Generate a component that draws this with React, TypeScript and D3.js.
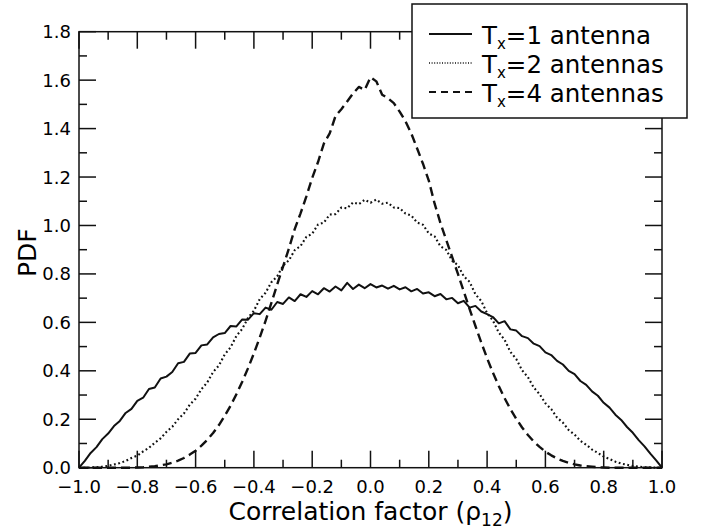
import React from "react";
import * as d3 from "d3";

const xStart = -1;
const xStep = 0.02;

const tx1 = [0,0.028,0.061,0.085,0.118,0.141,0.172,0.193,0.226,0.243,0.276,0.289,0.325,0.331,0.368,0.376,0.395,0.431,0.437,0.471,0.474,0.505,0.509,0.538,0.552,0.556,0.585,0.583,0.612,0.611,0.638,0.634,0.661,0.652,0.684,0.676,0.703,0.688,0.716,0.705,0.729,0.716,0.741,0.727,0.748,0.732,0.763,0.738,0.756,0.741,
  0.758,
  0.744,0.752,0.739,0.751,0.736,0.745,0.728,0.738,0.719,0.724,0.708,0.717,0.695,0.701,0.679,0.689,0.661,0.668,0.645,0.634,0.622,0.596,0.605,0.571,0.566,0.543,0.535,0.512,0.502,0.476,0.465,0.441,0.426,0.400,0.386,0.358,0.342,0.315,0.297,0.268,0.248,0.219,0.197,0.168,0.144,0.114,0.088,0.058,0.030,0];

const tx2 = [0,0,0.001,0.002,0.004,0.008,0.013,0.019,0.028,0.040,0.050,0.067,0.082,0.103,0.121,0.148,0.169,0.200,0.224,0.260,0.285,0.324,0.352,0.395,0.422,0.468,0.497,0.544,0.573,0.619,0.648,0.696,0.722,0.766,0.790,0.834,0.856,0.898,0.915,0.953,0.966,1.004,1.012,1.045,1.047,1.074,1.071,1.095,1.088,1.106,
  1.094,
  1.107,1.090,1.094,1.074,1.072,1.049,1.041,1.012,1.003,0.967,0.955,0.914,0.899,0.855,0.836,0.790,0.767,0.716,0.688,0.638,0.607,0.558,0.528,0.478,0.449,0.402,0.374,0.331,0.304,0.266,0.242,0.207,0.186,0.155,0.137,0.111,0.095,0.075,0.061,0.046,0.036,0.025,0.017,0.012,0.007,0.004,0.002,0.001,0,0];

const tx4 = [0,0,0,0,0,0,0,0,0,0,0.001,0.002,0.004,0.006,0.010,0.014,0.021,0.029,0.040,0.054,0.070,0.091,0.115,0.143,0.176,0.214,0.256,0.303,0.355,0.411,0.472,0.537,0.606,0.680,0.757,0.830,0.905,0.985,1.050,1.120,1.196,1.262,1.338,1.380,1.452,1.480,1.512,1.545,1.572,1.560,
  1.612,
  1.595,1.540,1.525,1.505,1.470,1.430,1.380,1.318,1.255,1.185,1.090,1.010,0.940,0.870,0.800,0.728,0.655,0.585,0.517,0.452,0.392,0.337,0.287,0.242,0.202,0.166,0.135,0.108,0.086,0.066,0.051,0.038,0.028,0.020,0.014,0.009,0.006,0.004,0.002,0.001,0,0,0,0,0,0,0,0,0,0];

const xTicks = [-1.0, -0.8, -0.6, -0.4, -0.2, 0.0, 0.2, 0.4, 0.6, 0.8, 1.0];
const yTicks = [0.0, 0.2, 0.4, 0.6, 0.8, 1.0, 1.2, 1.4, 1.6, 1.8];
const xMinor = [-0.9, -0.7, -0.5, -0.3, -0.1, 0.1, 0.3, 0.5, 0.7, 0.9];
const yMinor = [0.1, 0.3, 0.5, 0.7, 0.9, 1.1, 1.3, 1.5, 1.7];
const legendItems = ["1 antenna", "2 antennas", "4 antennas"];

const FONT = "'DejaVu Sans', sans-serif";

export default function App() {
  const W = 703, H = 531;
  const L = 79, R = 662, T = 31.7, B = 467.7;
  const x = d3.scaleLinear().domain([-1, 1]).range([L, R]);
  const y = d3.scaleLinear().domain([0, 1.8]).range([B, T]);
  const mk = (vals: number[]) =>
    d3.line<number>().x((_, i) => x(xStart + i * xStep)).y((v) => y(v))(vals) || "";

  const fmt = (v: number) => (v < 0 ? "\u2212" : "") + Math.abs(v).toFixed(1);
  const stroke = "#111";
  const axisW = 1.5;
  const major = 17, minor = 8;

  const styles = [
    { w: 2, dash: undefined as string | undefined },
    { w: 2.1, dash: "1.8,2.6" },
    { w: 2.4, dash: "9,5" },
  ];
  const legStyles = [
    { w: 2, dash: undefined as string | undefined },
    { w: 1.3, dash: "1,1.6" },
    { w: 2.2, dash: "7,5" },
  ];
  const series = [tx1, tx2, tx4];

  const legX = 412, legY = 4, legW = 275, legH = 114;

  return (
    <svg width={W} height={H} style={{ position: "absolute", left: 0, top: 0, background: "#fff" }}>
      <rect x={0} y={0} width={W} height={H} fill="#fff" />
      {series.map((s, i) => (
        <path key={i} d={mk(s)} fill="none" stroke={stroke} strokeWidth={styles[i].w}
          strokeDasharray={styles[i].dash} strokeLinejoin="round" />
      ))}
      <rect x={L} y={T} width={R - L} height={B - T} fill="none" stroke={stroke} strokeWidth={axisW} />
      {xTicks.map((t) => (
        <g key={"xt" + t}>
          <line x1={x(t)} x2={x(t)} y1={B} y2={B - major} stroke={stroke} strokeWidth={axisW} />
          <line x1={x(t)} x2={x(t)} y1={T} y2={T + major} stroke={stroke} strokeWidth={axisW} />
          <text x={x(t)} y={493} textAnchor="middle" fontFamily={FONT} fontSize={18} fill="#000">{fmt(t)}</text>
        </g>
      ))}
      {xMinor.map((t) => (
        <g key={"xm" + t}>
          <line x1={x(t)} x2={x(t)} y1={B} y2={B - minor} stroke={stroke} strokeWidth={axisW} />
          <line x1={x(t)} x2={x(t)} y1={T} y2={T + minor} stroke={stroke} strokeWidth={axisW} />
        </g>
      ))}
      {yTicks.map((t) => (
        <g key={"yt" + t}>
          <line x1={L} x2={L + major} y1={y(t)} y2={y(t)} stroke={stroke} strokeWidth={axisW} />
          <line x1={R} x2={R - major} y1={y(t)} y2={y(t)} stroke={stroke} strokeWidth={axisW} />
          <text x={71} y={y(t) + 6.5} textAnchor="end" fontFamily={FONT} fontSize={18} fill="#000">{fmt(t)}</text>
        </g>
      ))}
      {yMinor.map((t) => (
        <g key={"ym" + t}>
          <line x1={L} x2={L + minor} y1={y(t)} y2={y(t)} stroke={stroke} strokeWidth={axisW} />
          <line x1={R} x2={R - minor} y1={y(t)} y2={y(t)} stroke={stroke} strokeWidth={axisW} />
        </g>
      ))}
      <text x={(L + R) / 2} y={520} textAnchor="middle" fontFamily={FONT} fontSize={25} fill="#000">
        Correlation factor (<tspan>ρ</tspan><tspan fontSize={17} dy={6}>12</tspan><tspan dy={-6}>)</tspan>
      </text>
      <text transform={`translate(36,${(T + B) / 2 + 3}) rotate(-90)`} textAnchor="middle" fontFamily={FONT} fontSize={25} fill="#000">PDF</text>
      <rect x={legX} y={legY} width={legW} height={legH} fill="#fff" stroke={stroke} strokeWidth={1.5} />
      {legendItems.map((lab, i) => {
        const ly = 34 + i * 29;
        return (
          <g key={lab}>
            <line x1={429} x2={472} y1={ly} y2={ly} stroke={stroke}
              strokeWidth={legStyles[i].w} strokeDasharray={legStyles[i].dash} />
            <text x={482} y={ly + 10} fontFamily={FONT} fontSize={24.5} fill="#000">
              T<tspan fontSize={15} dy={5}>x</tspan><tspan dy={-5}>={lab}</tspan>
            </text>
          </g>
        );
      })}
    </svg>
  );
}
